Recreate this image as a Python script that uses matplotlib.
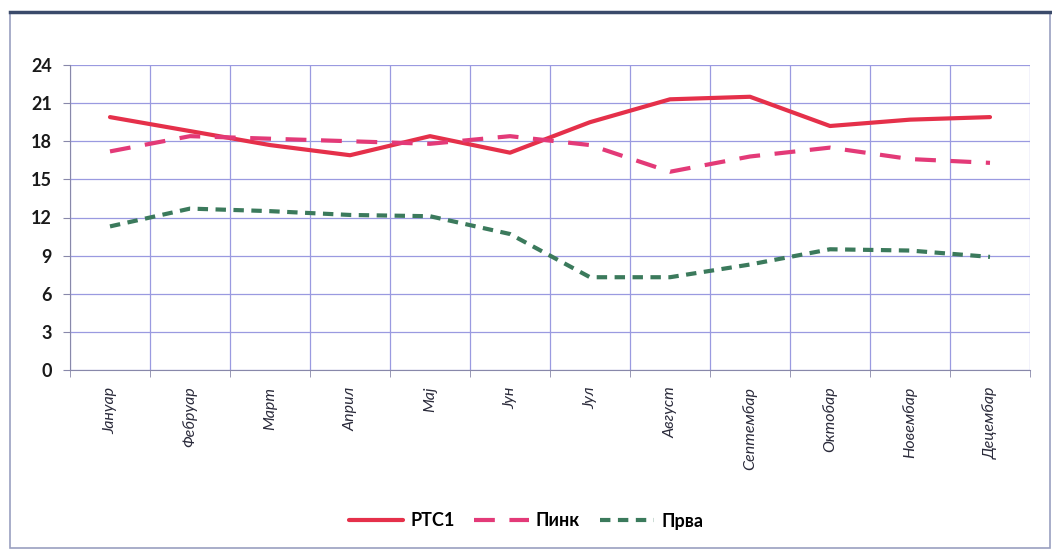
import matplotlib
matplotlib.use("Agg")
import matplotlib.pyplot as plt
from matplotlib.patches import Rectangle
from matplotlib.lines import Line2D

months = ["Јануар", "Фебруар", "Март", "Април", "Мај", "Јун", "Јул",
          "Август", "Септембар", "Октобар", "Новембар", "Децембар"]
rts1 = [19.9, 18.8, 17.7, 16.9, 18.4, 17.1, 19.5, 21.3, 21.5, 19.2, 19.7, 19.9]
pink = [17.2, 18.4, 18.2, 18.0, 17.8, 18.4, 17.7, 15.6, 16.8, 17.5, 16.6, 16.3]
prva = [11.3, 12.7, 12.5, 12.2, 12.1, 10.7, 7.3, 7.3, 8.3, 9.5, 9.4, 8.9]
yticks = [0, 3, 6, 9, 12, 15, 18, 21, 24]

plt.rcParams['font.family'] = ['Lato', 'DejaVu Sans']

fig = plt.figure(figsize=(10.52, 5.53), dpi=100)
ax = fig.add_axes([70/1052, 1 - 370/553, 960/1052, 305/553])

x = list(range(len(months)))
h1, = ax.plot(x, rts1, color="#e5304a", lw=3.0, solid_capstyle="round", label="РТС1", zorder=3)
h2, = ax.plot(x, pink, color="#e33a78", lw=3.0, dashes=(5, 3.5), label="Пинк", zorder=3)
h3, = ax.plot(x, prva, color="#3b7a5c", lw=3.0, dashes=(2.5, 1.8), label="Прва", zorder=3)

ax.set_xlim(-0.5, len(months) - 0.5)
ax.set_ylim(0, 24)
ax.set_yticks(yticks)
ax.set_yticklabels([str(v) for v in yticks], fontsize=13, fontweight="bold",
                   color="#1a1a1a")
ax.set_xticks(x)
ax.set_xticklabels(months, rotation=90, fontsize=11.5, style="italic",
                   color="#2a2a3a", va="top")
ax.set_xticks([i - 0.5 for i in range(len(months) + 1)], minor=True)

grid_c = "#9a9ae0"
ax.grid(True, which="major", axis="y", color=grid_c, lw=0.9, zorder=0)
ax.grid(True, which="minor", axis="x", color=grid_c, lw=0.9, zorder=0)
ax.set_axisbelow(True)

ax.tick_params(axis="x", which="major", length=0, pad=12)
ax.tick_params(axis="x", which="minor", length=5, color="#8888aa")
ax.tick_params(axis="y", length=5, color="#8888aa", pad=8)
for s in ["top", "right"]:
    ax.spines[s].set_visible(False)
ax.spines["left"].set_color("#8888aa")
ax.spines["bottom"].set_color("#8888aa")

fig.legend(handles=[h1, h2, h3], loc="center", bbox_to_anchor=(0.5, 1 - 521/553),
           ncol=3, frameon=False, handlelength=3.0, columnspacing=1.1, handletextpad=0.4,
           prop={"weight": "bold", "size": 13})

# outer frame
fig.patches.append(Rectangle((10/1052, 5/553), 1040/1052, 535/553, transform=fig.transFigure,
                             fill=False, edgecolor="#9aa0c0", lw=1.2))
fig.lines.append(Line2D([10/1052, 1.0], [1 - 12/553, 1 - 12/553], transform=fig.transFigure,
                        color="#3a4a6a", lw=2.5))

fig.savefig("out.png", dpi=100, facecolor="white")
